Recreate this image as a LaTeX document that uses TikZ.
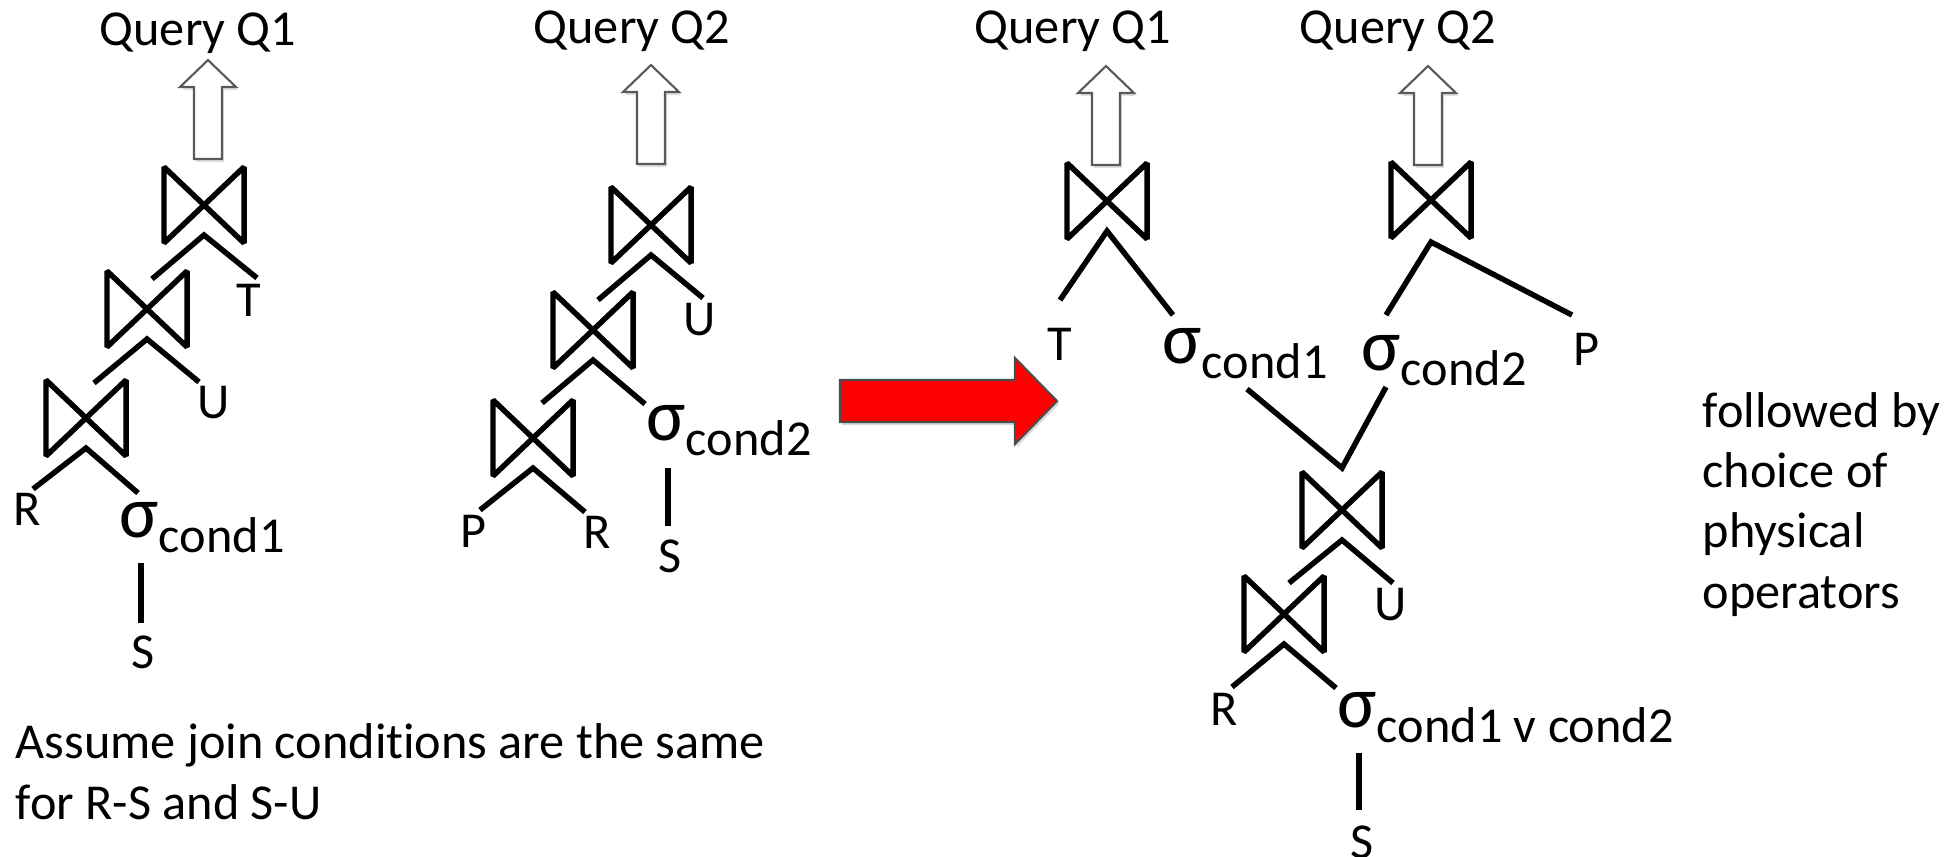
\documentclass[tikz,border=0pt]{standalone}
\usepackage{fontspec}
\setmainfont{Carlito}[Ligatures=NoCommon]
\usetikzlibrary{shadows}

\newcommand\txtsize{\fontsize{14.3}{17.07}\selectfont}
\newcommand\sigsize{\fontsize{21}{25}\selectfont}
\newcommand\selop[1]{{\sigsize σ}\raisebox{-0.15cm}{#1}}

\tikzset{
  bowtie/.style={minimum width=0.8cm, minimum height=0.76cm, inner sep=0pt, outer sep=0pt},
  rel/.style={anchor=base, inner sep=0pt, font=\txtsize},
  selnode/.style={anchor=base west, inner sep=0pt, font=\txtsize},
  branch/.style={line width=1.55pt},
  hollow/.style={draw=black!65, line width=0.6pt, fill=white,
    drop shadow={shadow xshift=0.02cm, shadow yshift=-0.03cm, opacity=0.25}},
  bigarrow/.style={draw=black!70, line width=0.6pt, fill=red,
    drop shadow={shadow xshift=0.02cm, shadow yshift=-0.03cm, opacity=0.3}},
}

\begin{document}
\begin{tikzpicture}[x=0.01cm, y=-0.01cm]
\useasboundingbox (0,0) rectangle (1960,856);

% left plan, query Q1
\node[rel] (q1l) at (198,45) {Query Q1};
\node[bowtie] (l1) at (204,205) {};
\node[bowtie] (l2) at (147,309) {};
\node[bowtie] (l3) at (86,418) {};
\node[rel] (tl) at (249,316) {T};
\node[rel] (ul) at (214,418) {U};
\node[rel] (rl) at (27,525) {R};
\node[selnode] (sgl) at (119,537) {\selop{cond1}};
\node[rel] (sl) at (143,668) {S};

% middle plan, query Q2
\node[rel] (q2m) at (632,43) {Query Q2};
\node[bowtie] (m1) at (651,225) {};
\node[bowtie] (m2) at (593,330) {};
\node[bowtie] (m3) at (533,438) {};
\node[rel] (um) at (700,335) {U};
\node[rel] (pm) at (473,547) {P};
\node[rel] (rm) at (597,548) {R};
\node[selnode] (sgm) at (646,440) {\selop{cond2}};
\node[rel] (sm) at (670,572) {S};

% right plan, shared subexpression
\node[rel] (q1r) at (1073,43) {Query Q1};
\node[rel] (q2r) at (1398,43) {Query Q2};
\node[bowtie] (r1) at (1107,201) {};
\node[bowtie] (r2) at (1431,200) {};
\node[bowtie] (r3) at (1342,510) {};
\node[bowtie] (r4) at (1284,614) {};
\node[rel] (tr) at (1060,360) {T};
\node[rel] (pr) at (1586,365) {P};
\node[rel] (ur) at (1391,620) {U};
\node[rel] (rr) at (1224,725) {R};
\node[rel] (sr) at (1362,858) {S};
\node[selnode] (sgr1) at (1162,363) {\selop{cond1}};
\node[selnode] (sgr2) at (1361,370) {\selop{cond2}};
\node[selnode] (sgr3) at (1337,727) {\selop{cond1 v cond2}};

% join symbols
\foreach \j in {l1,l2,l3,m1,m2,m3,r1,r2,r3,r4}
  \draw[branch, line join=bevel] (\j.north west) -- (\j.south east)
    -- (\j.north east) -- (\j.south west) -- cycle;

% branches under the joins
\foreach \j/\lx/\ly/\rx/\ry in {l1/152/279/257/278, l2/94/383/199/382,
    l3/33/489/138/493, m1/598/300/703/298, m2/542/403/645/404,
    m3/480/510/585/512, r1/1060/300/1173/315, r3/1289/583/1393/583,
    r4/1232/687/1336/688}{
  \coordinate (\j-l) at (\lx,\ly);
  \coordinate (\j-r) at (\rx,\ry);
  \draw[branch] (\j-l) -- ([yshift=0.08cm]\j.south) -- (\j-r);
}
\coordinate (r2-l) at (1386,315);
\coordinate (r2-r) at (1572,315);
\draw[branch] (r2-l) -- ([yshift=-0.04cm]r2.south) -- (r2-r);
\coordinate (v-l) at (1247,389);
\coordinate (v-r) at (1386,387);
\draw[branch] (v-l) -- ([yshift=0.04cm]r3.north) -- (v-r);

% selections over S
\coordinate (sgl-a) at (141,563); \coordinate (sgl-b) at (141,623);
\coordinate (sgm-a) at (668,468); \coordinate (sgm-b) at (668,526);
\coordinate (sgr-a) at (1359,753); \coordinate (sgr-b) at (1359,810);
\draw[branch] (sgl-a) -- (sgl-b) (sgm-a) -- (sgm-b) (sgr-a) -- (sgr-b);

% result arrows
\foreach \x/\y in {208/60, 651/65, 1106/66, 1428/66}
  \draw[hollow] (\x,\y) -- ++(28,27) -- ++(-14,0) -- ++(0,72) -- ++(-28,0)
    -- ++(0,-72) -- ++(-14,0) -- cycle;

% rewrite arrow
\draw[bigarrow] (840,380) -- (1015,380) -- (1015,358) -- (1057,401)
  -- (1015,444) -- (1015,422) -- (840,422) -- cycle;

\node[anchor=base west, inner sep=0pt, font=\txtsize, align=left] (note)
  at (15,819) {Assume join conditions are the same\\for R-S and S-U};
\node[anchor=base west, inner sep=0pt, font=\txtsize, align=left] (phys)
  at (1702,608) {followed by\\choice of\\physical\\operators};
\end{tikzpicture}
\end{document}
